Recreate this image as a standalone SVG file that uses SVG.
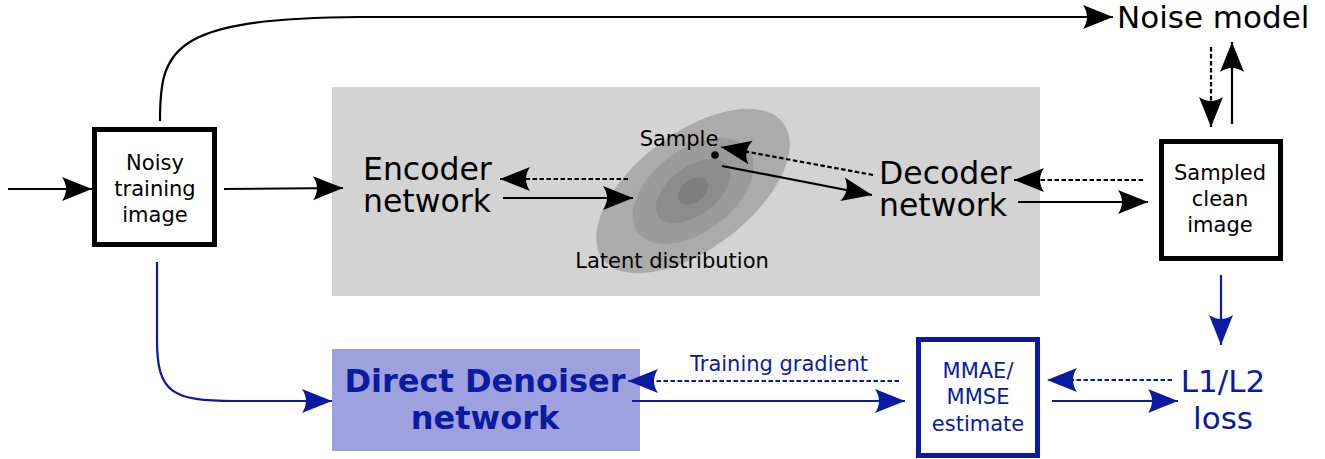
<svg xmlns="http://www.w3.org/2000/svg" width="1325" height="459" viewBox="0 0 1325 459">
<style>
text{font-family:"DejaVu Sans","Liberation Sans",sans-serif;}
.k{fill:#000;}
.b{fill:#0b1aa0;}
.ln{fill:none;stroke:#000;stroke-width:2.2;}
.lb{fill:none;stroke:#0b1aa0;stroke-width:2.2;}
.d{stroke-dasharray:4.5,2.5;}
.box{fill:#fff;stroke:#000;stroke-width:5;}
</style>
<defs>
<marker id="ak" markerUnits="userSpaceOnUse" markerWidth="32" markerHeight="26" refX="30" refY="12" orient="auto" overflow="visible">
<path d="M30,12 L0,0 Q8,12 0,24 Z" fill="#000"/>
</marker>
<marker id="ab" markerUnits="userSpaceOnUse" markerWidth="32" markerHeight="26" refX="30" refY="12" orient="auto" overflow="visible">
<path d="M30,12 L0,0 Q8,12 0,24 Z" fill="#0b1aa0"/>
</marker>
</defs>
<rect width="1325" height="459" fill="#fff"/>
<g id="vae-panel">
<rect x="332" y="87" width="708" height="209" fill="#d3d3d3"/>
<g id="latent" transform="translate(693,191) rotate(-37)">
<ellipse rx="113" ry="58" fill="#ababab"/>
<ellipse rx="69" ry="41" fill="#9b9b9b"/>
<ellipse rx="43" ry="24" fill="#8c8c8c"/>
<ellipse rx="17" ry="11" fill="#7e7e7e"/>
</g>
<circle cx="715" cy="155" r="3.8" fill="#000"/>
<text x="679" y="146" font-size="21" text-anchor="middle" class="k">Sample</text>
<text x="672" y="268" font-size="21" text-anchor="middle" class="k">Latent distribution</text>
</g>
<g id="encoder">
<text x="363" y="180" font-size="31.5" class="k">Encoder</text>
<text x="363" y="212" font-size="31.5" class="k">network</text>
</g>
<g id="decoder">
<text x="879" y="184" font-size="31.5" class="k">Decoder</text>
<text x="879" y="216" font-size="31.5" class="k">network</text>
</g>
<g id="noisy">
<rect class="box" x="94.5" y="129.5" width="120" height="115"/>
<text x="155" y="170" font-size="21" text-anchor="middle" class="k">Noisy</text>
<text x="155" y="196" font-size="21" text-anchor="middle" class="k">training</text>
<text x="155" y="222" font-size="21" text-anchor="middle" class="k">image</text>
</g>
<g id="sampled">
<rect class="box" x="1161.5" y="141.5" width="119" height="117"/>
<text x="1220" y="180" font-size="21" text-anchor="middle" class="k">Sampled</text>
<text x="1220" y="206" font-size="21" text-anchor="middle" class="k">clean</text>
<text x="1220" y="232" font-size="21" text-anchor="middle" class="k">image</text>
</g>
<g id="noise-model">
<text x="1117" y="28" font-size="31" class="k">Noise model</text>
</g>
<g id="denoiser">
<rect x="332" y="349" width="308" height="102" fill="#9da1de"/>
<text x="485" y="392" font-size="32" font-weight="bold" text-anchor="middle" class="b">Direct Denoiser</text>
<text x="485" y="429" font-size="32" font-weight="bold" text-anchor="middle" class="b">network</text>
</g>
<g id="estimate">
<rect x="918.5" y="339.5" width="119" height="116" fill="#fff" stroke="#0b1aa0" stroke-width="5"/>
<text x="978" y="378" font-size="21" text-anchor="middle" class="b">MMAE/</text>
<text x="978" y="404" font-size="21" text-anchor="middle" class="b">MMSE</text>
<text x="978" y="431" font-size="21" text-anchor="middle" class="b">estimate</text>
</g>
<g id="loss">
<text x="1223" y="392" font-size="31" text-anchor="middle" class="b">L1/L2</text>
<text x="1223" y="429" font-size="31" text-anchor="middle" class="b">loss</text>
</g>
<g id="connectors">
<path class="ln" d="M8,189 H92" marker-end="url(#ak)"/>
<path class="ln" d="M224,189 L343,188" marker-end="url(#ak)"/>
<path class="ln" d="M160,121 C160,50 170,18 360,17 H1113" marker-end="url(#ak)"/>
<path class="ln" d="M503,198 H633" marker-end="url(#ak)"/>
<path class="ln d" d="M628,179 H500" marker-end="url(#ak)"/>
<path class="ln" d="M722,166 L872,195" marker-end="url(#ak)"/>
<path class="ln d" d="M873,175 L721,147" marker-end="url(#ak)"/>
<path class="ln" d="M1018,202 H1148" marker-end="url(#ak)"/>
<path class="ln d" d="M1143,180 H1014" marker-end="url(#ak)"/>
<path class="ln d" d="M1211,47 V127" marker-end="url(#ak)"/>
<path class="ln" d="M1232,124 V42" marker-end="url(#ak)"/>
<path class="lb" d="M157,262 V340 C157,393 172,401 235,401 H332" marker-end="url(#ab)"/>
<path class="lb" d="M632,401 H905" marker-end="url(#ab)"/>
<path class="lb d" d="M899,381 H628" marker-end="url(#ab)"/>
<path class="lb" d="M1052,401 H1178" marker-end="url(#ab)"/>
<path class="lb d" d="M1172,380 H1047" marker-end="url(#ab)"/>
<path class="lb" d="M1221,275 V345" marker-end="url(#ab)"/>
<text x="779" y="371" font-size="21" text-anchor="middle" class="b">Training gradient</text>
</g>
</svg>
